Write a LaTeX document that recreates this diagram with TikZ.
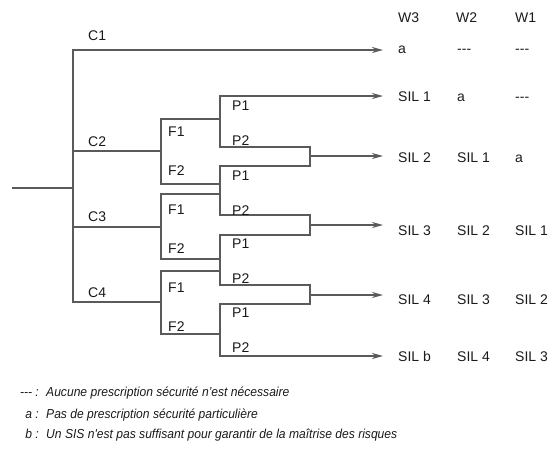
\documentclass[tikz,border=0pt]{standalone}
\usepackage{fontspec}
\setmainfont{Liberation Sans}[Ligatures=TeXOff]
\usetikzlibrary{arrows.meta}
\definecolor{branch}{HTML}{5A5A5A}
\definecolor{ink}{HTML}{1A1A1A}
\begin{document}
\begin{tikzpicture}[x=1pt,y=-1pt,
  wire/.style={draw=branch,line width=2pt,line cap=rect,line join=miter},
  flow/.style={wire,-{Stealth[length=11pt,width=6pt]}},
  lbl/.style={inner sep=0pt,anchor=base west,text=ink,font=\fontsize{14}{16}\selectfont},
  keyl/.style={inner sep=0pt,anchor=base east,text=ink,font=\fontsize{13}{16}\selectfont\itshape\addfontfeatures{FakeStretch=0.93}},
  notel/.style={inner sep=0pt,anchor=base west,text=ink,font=\fontsize{13}{16}\selectfont\itshape\addfontfeatures{FakeStretch=0.93}}]
\useasboundingbox (0,0) rectangle (553,461);

% trunk and consequence branches
\coordinate (root0) at (13,188);
\coordinate (root) at (73,188);
\coordinate (c1) at (73,50);
\coordinate (c2) at (73,151);
\coordinate (c3) at (73,227);
\coordinate (c4) at (73,302);

% frequency brackets
\coordinate (fc2) at (161,151);
\coordinate (f2a) at (161,119);
\coordinate (f2b) at (161,184);
\coordinate (fc3) at (161,227);
\coordinate (f3a) at (161,194);
\coordinate (f3b) at (161,259);
\coordinate (fc4) at (161,302);
\coordinate (f4a) at (161,271);
\coordinate (f4b) at (161,334);

% junctions on the P brackets
\coordinate (j2a) at (220,119);
\coordinate (j2b) at (220,184);
\coordinate (j3a) at (220,194);
\coordinate (j3b) at (220,259);
\coordinate (j4a) at (220,271);
\coordinate (j4b) at (220,334);

% P branches
\coordinate (pA1) at (220,96);
\coordinate (pA2) at (220,147);
\coordinate (pB1) at (220,166);
\coordinate (pB2) at (220,215);
\coordinate (pC1) at (220,235);
\coordinate (pC2) at (220,285);
\coordinate (pD1) at (220,304);
\coordinate (pD2) at (220,356);

% merging boxes
\coordinate (m2a) at (310,147);
\coordinate (m2b) at (310,166);
\coordinate (m2) at (310,156);
\coordinate (m3a) at (310,215);
\coordinate (m3b) at (310,235);
\coordinate (m3) at (310,225);
\coordinate (m4a) at (310,285);
\coordinate (m4b) at (310,304);
\coordinate (m4) at (310,295);

% arrow tips
\coordinate (t0) at (383,50);
\coordinate (t1) at (383,96);
\coordinate (t2) at (383,156);
\coordinate (t3) at (383,225);
\coordinate (t4) at (383,295);
\coordinate (t5) at (383,356);

% tree
\draw[wire] (root0) -- (root);
\draw[wire] (c1) -- (c4);
\draw[flow] (c1) -- (t0);
\draw[wire] (c2) -- (fc2);
\draw[wire] (c3) -- (fc3);
\draw[wire] (c4) -- (fc4);
\draw[wire] (j2a) -- (f2a) -- (f2b) -- (j2b);
\draw[wire] (j3a) -- (f3a) -- (f3b) -- (j3b);
\draw[wire] (j4a) -- (f4a) -- (f4b) -- (j4b);
\draw[wire] (pA1) -- (pA2) -- (m2a) -- (m2b) -- (pB1) -- (pB2) -- (m3a) -- (m3b)
  -- (pC1) -- (pC2) -- (m4a) -- (m4b) -- (pD1) -- (pD2);
\draw[flow] (pA1) -- (t1);
\draw[flow] (m2) -- (t2);
\draw[flow] (m3) -- (t3);
\draw[flow] (m4) -- (t4);
\draw[flow] (pD2) -- (t5);

% branch labels
\node[lbl] (lc1) at (88,40) {C1};
\node[lbl] (lc2) at (88,146.5) {C2};
\node[lbl] (lc3) at (88,221.5) {C3};
\node[lbl] (lc4) at (88,297.5) {C4};
\node[lbl] (lf21) at (168,136.5) {F1};
\node[lbl] (lf22) at (168,175.5) {F2};
\node[lbl] (lf31) at (168,214.5) {F1};
\node[lbl] (lf32) at (168,253.5) {F2};
\node[lbl] (lf41) at (168,292) {F1};
\node[lbl] (lf42) at (168,331) {F2};
\node[lbl] (lpa1) at (232,110.5) {P1};
\node[lbl] (lpa2) at (232,145) {P2};
\node[lbl] (lpb1) at (232,180) {P1};
\node[lbl] (lpb2) at (232,215) {P2};
\node[lbl] (lpc1) at (232,248.5) {P1};
\node[lbl] (lpc2) at (232,283.5) {P2};
\node[lbl] (lpd1) at (232,317.5) {P1};
\node[lbl] (lpd2) at (232,352.5) {P2};

% result table
\node[lbl] (h3) at (398,22) {W3};
\node[lbl] (h2) at (456,22) {W2};
\node[lbl] (h1) at (515,22) {W1};
\node[lbl] (s03) at (398,53.5) {a};
\node[lbl] (s02) at (457,53.5) {---};
\node[lbl] (s01) at (515,53.5) {---};
\node[lbl] (s13) at (398,101.5) {SIL 1};
\node[lbl] (s12) at (457,101.5) {a};
\node[lbl] (s11) at (515,101.5) {---};
\node[lbl] (s23) at (398,162) {SIL 2};
\node[lbl] (s22) at (457,162) {SIL 1};
\node[lbl] (s21) at (515,162) {a};
\node[lbl] (s33) at (398,235.5) {SIL 3};
\node[lbl] (s32) at (457,235.5) {SIL 2};
\node[lbl] (s31) at (515,235.5) {SIL 1};
\node[lbl] (s43) at (398,304) {SIL 4};
\node[lbl] (s42) at (457,304) {SIL 3};
\node[lbl] (s41) at (515,304) {SIL 2};
\node[lbl] (s53) at (398,361.5) {SIL b};
\node[lbl] (s52) at (457,361.5) {SIL 4};
\node[lbl] (s51) at (515,361.5) {SIL 3};

% legend
\node[keyl] (k1) at (39,396) {--- :};
\node[notel] (n1) at (46,396) {Aucune prescription sécurité n’est nécessaire};
\node[keyl] (k2) at (39,418) {a :};
\node[notel] (n2) at (46,418) {Pas de prescription sécurité particulière};
\node[keyl] (k3) at (39,438) {b :};
\node[notel] (n3) at (46,438) {Un SIS n'est pas suffisant pour garantir de la maîtrise des risques};
\end{tikzpicture}
\end{document}
